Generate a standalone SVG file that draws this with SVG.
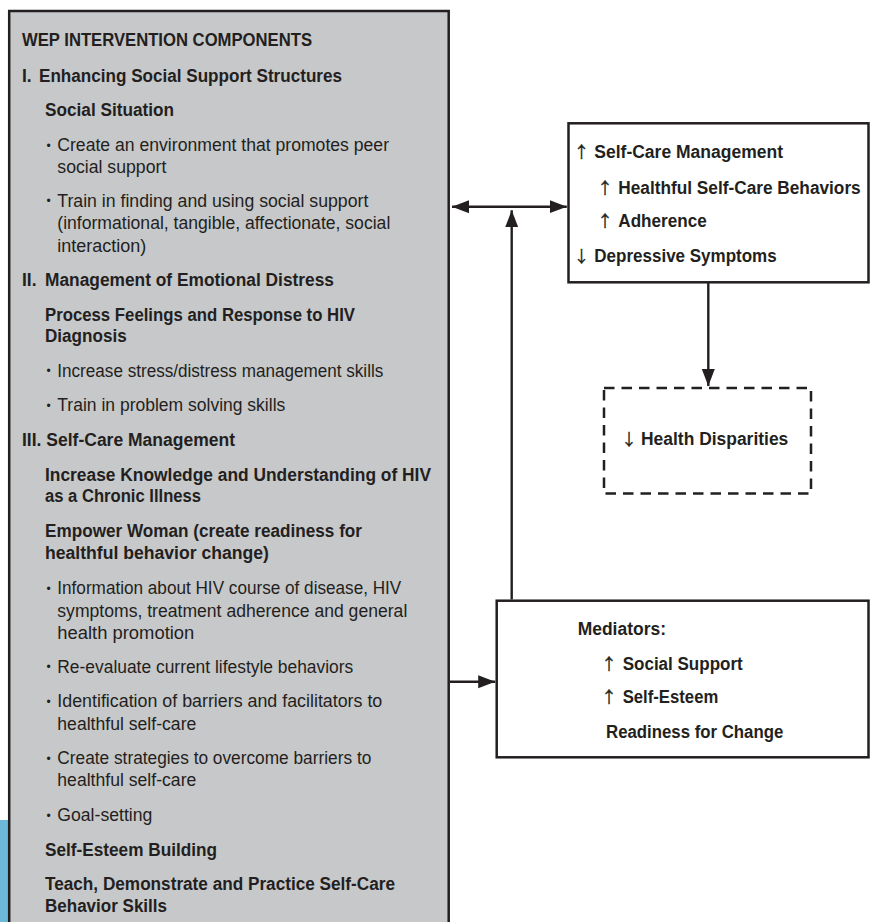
<svg xmlns="http://www.w3.org/2000/svg" width="870" height="922" viewBox="0 0 870 922">
<style>
text{font-family:"Liberation Sans","DejaVu Sans",sans-serif;font-size:17.5px;fill:#231f20}
.b{font-weight:bold}
.bul{font-size:12px}
.ar{font-family:"Noto Sans CJK SC","DejaVu Sans",sans-serif;font-size:16px;font-weight:normal;stroke:#231f20;stroke-width:0.3}
.box{fill:#fff;stroke:#231f20;stroke-width:2.5}
.con{stroke:#231f20;stroke-width:2.4;fill:none}
</style>
<defs>
<marker id="ah" markerUnits="userSpaceOnUse" markerWidth="18" markerHeight="14" refX="17" refY="6.5" orient="auto-start-reverse" viewBox="0 0 18 13">
<path d="M0,0 L17,6.5 L0,13 Z" fill="#231f20"/>
</marker>
</defs>
<rect x="0" y="820" width="9" height="102" fill="#6cb9d9"/>
<g id="interventions">
<rect x="9.2" y="11" width="439.5" height="930" fill="#c7c8ca" stroke="#231f20" stroke-width="2.5"/>
<text class="b" x="22" y="46" textLength="290" lengthAdjust="spacingAndGlyphs">WEP INTERVENTION COMPONENTS</text>
<text class="b" x="22" y="81.5">I.</text>
<text class="b" x="39" y="81.5" textLength="303" lengthAdjust="spacingAndGlyphs">Enhancing Social Support Structures</text>
<text class="b" x="45" y="116" textLength="129" lengthAdjust="spacingAndGlyphs">Social Situation</text>
<text class="bul" x="46.5" y="149.5">•</text>
<text x="57.3" y="151" textLength="331.7" lengthAdjust="spacingAndGlyphs">Create an environment that promotes peer</text>
<text x="57.3" y="172.5" textLength="109" lengthAdjust="spacingAndGlyphs">social support</text>
<text class="bul" x="46.5" y="205.2">•</text>
<text x="57.3" y="206.7" textLength="311" lengthAdjust="spacingAndGlyphs">Train in finding and using social support</text>
<text x="57.3" y="229" textLength="333" lengthAdjust="spacingAndGlyphs">(informational, tangible, affectionate, social</text>
<text x="57.3" y="252" textLength="89" lengthAdjust="spacingAndGlyphs">interaction)</text>
<text class="b" x="22" y="286">II.</text>
<text class="b" x="45" y="286" textLength="289" lengthAdjust="spacingAndGlyphs">Management of Emotional Distress</text>
<text class="b" x="45" y="320.7" textLength="310" lengthAdjust="spacingAndGlyphs">Process Feelings and Response to HIV</text>
<text class="b" x="45" y="342" textLength="81.7" lengthAdjust="spacingAndGlyphs">Diagnosis</text>
<text class="bul" x="46.5" y="375.2">•</text>
<text x="57.3" y="376.7" textLength="326" lengthAdjust="spacingAndGlyphs">Increase stress/distress management skills</text>
<text class="bul" x="46.5" y="409.5">•</text>
<text x="57.3" y="411" textLength="228" lengthAdjust="spacingAndGlyphs">Train in problem solving skills</text>
<text class="b" x="22" y="446" textLength="213" lengthAdjust="spacingAndGlyphs">III. Self-Care Management</text>
<text class="b" x="45" y="480.7" textLength="386" lengthAdjust="spacingAndGlyphs">Increase Knowledge and Understanding of HIV</text>
<text class="b" x="45" y="502" textLength="156" lengthAdjust="spacingAndGlyphs">as a Chronic Illness</text>
<text class="b" x="45" y="537" textLength="317" lengthAdjust="spacingAndGlyphs">Empower Woman (create readiness for</text>
<text class="b" x="45" y="559" textLength="224" lengthAdjust="spacingAndGlyphs">healthful behavior change)</text>
<text class="bul" x="46.5" y="592.5">•</text>
<text x="57.3" y="594" textLength="344" lengthAdjust="spacingAndGlyphs">Information about HIV course of disease, HIV</text>
<text x="57.3" y="616.7" textLength="350" lengthAdjust="spacingAndGlyphs">symptoms, treatment adherence and general</text>
<text x="57.3" y="638.5" textLength="137" lengthAdjust="spacingAndGlyphs">health promotion</text>
<text class="bul" x="46.5" y="671.2">•</text>
<text x="57.3" y="672.7" textLength="296" lengthAdjust="spacingAndGlyphs">Re-evaluate current lifestyle behaviors</text>
<text class="bul" x="46.5" y="705.5">•</text>
<text x="57.3" y="707" textLength="325" lengthAdjust="spacingAndGlyphs">Identification of barriers and facilitators to</text>
<text x="57.3" y="730" textLength="139" lengthAdjust="spacingAndGlyphs">healthful self-care</text>
<text class="bul" x="46.5" y="762.5">•</text>
<text x="57.3" y="764" textLength="314" lengthAdjust="spacingAndGlyphs">Create strategies to overcome barriers to</text>
<text x="57.3" y="786" textLength="139" lengthAdjust="spacingAndGlyphs">healthful self-care</text>
<text class="bul" x="46.5" y="819.5">•</text>
<text x="57.3" y="821" textLength="95" lengthAdjust="spacingAndGlyphs">Goal-setting</text>
<text class="b" x="45" y="855.5" textLength="172" lengthAdjust="spacingAndGlyphs">Self-Esteem Building</text>
<text class="b" x="45" y="890" textLength="350" lengthAdjust="spacingAndGlyphs">Teach, Demonstrate and Practice Self-Care</text>
<text class="b" x="45" y="911.7" textLength="122" lengthAdjust="spacingAndGlyphs">Behavior Skills</text>
</g>
<g id="outcomes">
<rect class="box" x="568.5" y="123.3" width="300" height="159"/>
<text class="ar" x="573.5" y="158.3">↑</text>
<text class="b" x="594.3" y="158.3" textLength="188.7" lengthAdjust="spacingAndGlyphs">Self-Care Management</text>
<text class="ar" x="597" y="194">↑</text>
<text class="b" x="618.3" y="194" textLength="242.4" lengthAdjust="spacingAndGlyphs">Healthful Self-Care Behaviors</text>
<text class="ar" x="597" y="227.3">↑</text>
<text class="b" x="618.3" y="227.3" textLength="88.4" lengthAdjust="spacingAndGlyphs">Adherence</text>
<text class="ar" x="573.5" y="261.7">↓</text>
<text class="b" x="594.3" y="261.7" textLength="182.4" lengthAdjust="spacingAndGlyphs">Depressive Symptoms</text>
</g>
<g id="disparities">
<rect x="604" y="388" width="207" height="105.5" fill="#fff" stroke="#231f20" stroke-width="2.5" stroke-dasharray="10.5 7"/>
<text class="ar" x="621" y="445">↓</text>
<text class="b" x="641" y="445" textLength="147.3" lengthAdjust="spacingAndGlyphs">Health Disparities</text>
</g>
<g id="mediators">
<rect class="box" x="496.7" y="600.7" width="371.8" height="156.6"/>
<text class="b" x="577.7" y="635" textLength="88.3" lengthAdjust="spacingAndGlyphs">Mediators:</text>
<text class="ar" x="601" y="670">↑</text>
<text class="b" x="622.7" y="670" textLength="120" lengthAdjust="spacingAndGlyphs">Social Support</text>
<text class="ar" x="601" y="703.3">↑</text>
<text class="b" x="622.7" y="703.3" textLength="95.6" lengthAdjust="spacingAndGlyphs">Self-Esteem</text>
<text class="b" x="606" y="738" textLength="177.3" lengthAdjust="spacingAndGlyphs">Readiness for Change</text>
</g>
<g id="connectors">
<line class="con" x1="452" y1="206.7" x2="566.8" y2="206.7" marker-start="url(#ah)" marker-end="url(#ah)"/>
<line class="con" x1="511.7" y1="599.5" x2="511.7" y2="210.2" marker-end="url(#ah)"/>
<line class="con" x1="708.3" y1="282.5" x2="708.3" y2="386" marker-end="url(#ah)"/>
<line class="con" x1="450" y1="681.7" x2="495.2" y2="681.7" marker-end="url(#ah)"/>
</g>
</svg>
